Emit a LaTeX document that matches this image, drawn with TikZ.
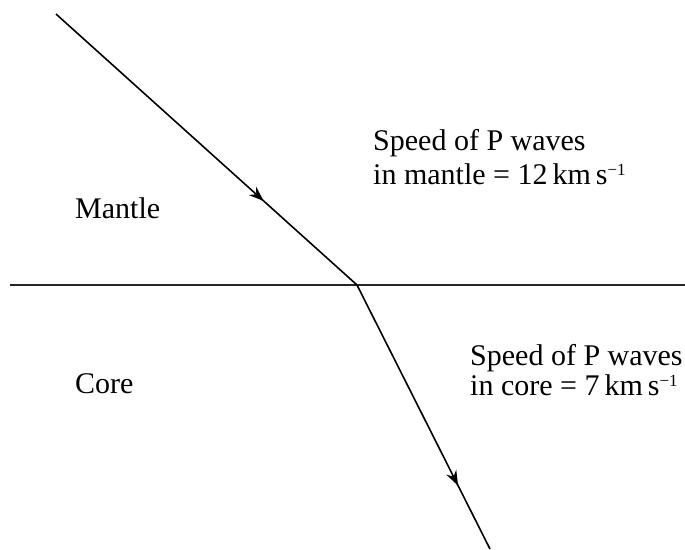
\documentclass[tikz,border=0pt]{standalone}
\usepackage{fontspec}
\setmainfont{Liberation Serif}
\usetikzlibrary{arrows.meta,decorations.markings}
\tikzset{
  ray/.style={line width=1.6pt},
  midarrow/.style={postaction={decorate},decoration={markings,mark=at position #1 with {\arrow{Stealth[length=15pt,width=11pt,inset=5pt]}}}},
  lbl/.style={anchor=base west,inner sep=0pt,font=\fontsize{30}{34}\selectfont},
}
\newcommand{\kms}[1]{#1\,km\,s\raisebox{9pt}{\fontsize{17}{17}\selectfont\char"2212 1}}
\begin{document}
\begin{tikzpicture}[x=1pt,y=-1pt]
\useasboundingbox (0,0) rectangle (685,549);
\coordinate (start) at (56,14);
\coordinate (hit) at (357,285);
\coordinate (end) at (490,549);
\coordinate (bl) at (10,285);
\coordinate (br) at (685,285);
\draw[line width=1.8pt,black!85] (bl) -- (br);
\draw[ray,midarrow=0.69] (start) -- (hit);
\draw[ray,midarrow=0.76] (hit) -- (end);
\node[lbl] (m1) at (373,150) {Speed of P waves};
\node[lbl] (m2) at (373,184) {in mantle = \kms{12}};
\node[lbl] (mantle) at (75,218) {Mantle};
\node[lbl] (core) at (75,393) {Core};
\node[lbl] (c1) at (470,365) {Speed of P waves};
\node[lbl] (c2) at (470,395) {in core = \kms{7}};
\end{tikzpicture}
\end{document}
